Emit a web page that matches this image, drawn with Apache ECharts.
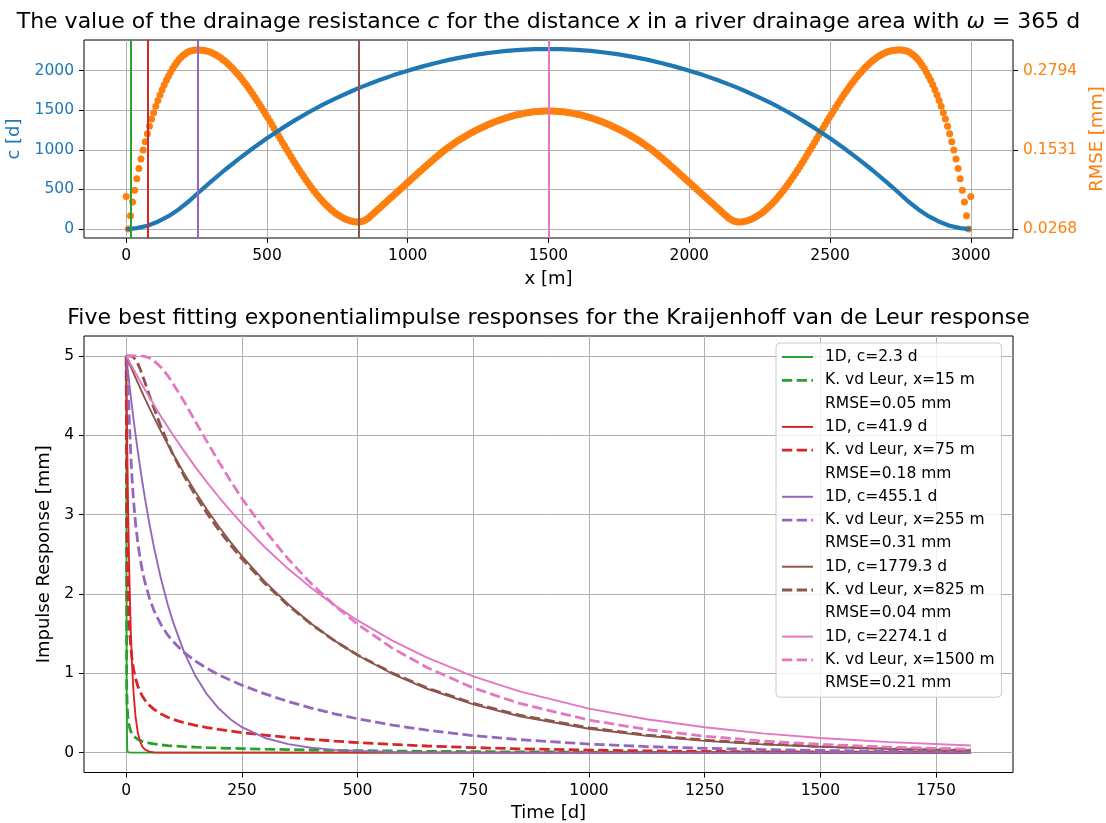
<!DOCTYPE html>
<html>
<head>
<meta charset="utf-8">
<title>Drainage resistance and impulse responses</title>
<script src="https://cdn.jsdelivr.net/npm/echarts@6/dist/echarts.min.js"></script>
<style>
  html, body { margin: 0; padding: 0; background: #ffffff; }
  #chart { width: 1106px; height: 823px; }
</style>
</head>
<body>
<div id="chart"></div>
<script>
// ---------------- top panel: c(x) and RMSE(x) ----------------
// RMSE of the best exponential fit, sampled every 7.5 m from x = 0 to 3000 m
const distStep = 7.5;
const rmseMm = [
  0.0786, 0.0268, 0.0480, 0.0697, 0.0888, 0.1068, 0.1232, 0.1384, 0.1527, 0.1662, 0.1789, 0.1906, 0.2023, 0.2124, 0.2227, 0.2317, 0.2405, 0.2491, 0.2570, 0.2642,
  0.2707, 0.2770, 0.2830, 0.2882, 0.2930, 0.2972, 0.3008, 0.3040, 0.3066, 0.3087, 0.3103, 0.3114, 0.3121, 0.3125, 0.3126, 0.3124, 0.3122, 0.3116, 0.3109, 0.3099,
  0.3087, 0.3072, 0.3055, 0.3036, 0.3015, 0.2992, 0.2966, 0.2939, 0.2909, 0.2877, 0.2844, 0.2809, 0.2771, 0.2732, 0.2692, 0.2649, 0.2606, 0.2560, 0.2513, 0.2465,
  0.2417, 0.2367, 0.2315, 0.2263, 0.2210, 0.2156, 0.2101, 0.2046, 0.1990, 0.1934, 0.1877, 0.1821, 0.1764, 0.1707, 0.1650, 0.1594, 0.1537, 0.1482, 0.1426, 0.1371,
  0.1317, 0.1263, 0.1211, 0.1159, 0.1108, 0.1059, 0.1010, 0.0963, 0.0918, 0.0873, 0.0831, 0.0789, 0.0750, 0.0712, 0.0676, 0.0642, 0.0610, 0.0579, 0.0551, 0.0525,
  0.0501, 0.0479, 0.0459, 0.0440, 0.0424, 0.0411, 0.0400, 0.0392, 0.0385, 0.0381, 0.0380, 0.0383, 0.0391, 0.0406, 0.0426, 0.0452, 0.0482, 0.0513, 0.0543, 0.0574,
  0.0604, 0.0635, 0.0665, 0.0696, 0.0726, 0.0757, 0.0787, 0.0818, 0.0848, 0.0879, 0.0909, 0.0940, 0.0970, 0.1001, 0.1031, 0.1062, 0.1092, 0.1123, 0.1153, 0.1184,
  0.1214, 0.1244, 0.1274, 0.1304, 0.1334, 0.1363, 0.1392, 0.1421, 0.1449, 0.1477, 0.1504, 0.1531, 0.1557, 0.1582, 0.1606, 0.1630, 0.1653, 0.1675, 0.1696, 0.1717,
  0.1737, 0.1756, 0.1775, 0.1794, 0.1812, 0.1830, 0.1847, 0.1864, 0.1881, 0.1897, 0.1913, 0.1928, 0.1943, 0.1957, 0.1971, 0.1984, 0.1997, 0.2009, 0.2021, 0.2033,
  0.2043, 0.2053, 0.2063, 0.2073, 0.2082, 0.2090, 0.2097, 0.2105, 0.2111, 0.2117, 0.2123, 0.2128, 0.2133, 0.2137, 0.2140, 0.2143, 0.2146, 0.2148, 0.2149, 0.2150,
  0.2150,
  0.2150, 0.2149, 0.2148, 0.2146, 0.2143, 0.2140, 0.2137, 0.2133, 0.2128, 0.2123, 0.2117, 0.2111, 0.2105, 0.2097, 0.2090, 0.2082, 0.2073, 0.2063, 0.2053, 0.2043,
  0.2033, 0.2021, 0.2009, 0.1997, 0.1984, 0.1971, 0.1957, 0.1943, 0.1928, 0.1913, 0.1897, 0.1881, 0.1864, 0.1847, 0.1830, 0.1812, 0.1794, 0.1775, 0.1756, 0.1737,
  0.1717, 0.1696, 0.1675, 0.1653, 0.1630, 0.1606, 0.1582, 0.1557, 0.1531, 0.1504, 0.1477, 0.1449, 0.1421, 0.1392, 0.1363, 0.1334, 0.1304, 0.1274, 0.1244, 0.1214,
  0.1184, 0.1153, 0.1123, 0.1092, 0.1062, 0.1031, 0.1001, 0.0970, 0.0940, 0.0909, 0.0879, 0.0848, 0.0818, 0.0787, 0.0757, 0.0726, 0.0696, 0.0665, 0.0635, 0.0604,
  0.0574, 0.0543, 0.0513, 0.0482, 0.0452, 0.0426, 0.0406, 0.0391, 0.0383, 0.0380, 0.0381, 0.0385, 0.0392, 0.0400, 0.0411, 0.0424, 0.0440, 0.0459, 0.0479, 0.0501,
  0.0525, 0.0551, 0.0579, 0.0610, 0.0642, 0.0676, 0.0712, 0.0750, 0.0789, 0.0831, 0.0873, 0.0918, 0.0963, 0.1010, 0.1059, 0.1108, 0.1159, 0.1211, 0.1263, 0.1317,
  0.1371, 0.1426, 0.1482, 0.1537, 0.1594, 0.1650, 0.1707, 0.1764, 0.1821, 0.1877, 0.1934, 0.1990, 0.2046, 0.2101, 0.2156, 0.2210, 0.2263, 0.2315, 0.2367, 0.2417,
  0.2465, 0.2513, 0.2560, 0.2606, 0.2649, 0.2692, 0.2732, 0.2771, 0.2809, 0.2844, 0.2877, 0.2909, 0.2939, 0.2966, 0.2992, 0.3015, 0.3036, 0.3055, 0.3072, 0.3087,
  0.3099, 0.3109, 0.3116, 0.3122, 0.3124, 0.3126, 0.3125, 0.3121, 0.3114, 0.3103, 0.3087, 0.3066, 0.3040, 0.3008, 0.2972, 0.2930, 0.2882, 0.2830, 0.2770, 0.2707,
  0.2642, 0.2570, 0.2491, 0.2405, 0.2317, 0.2227, 0.2124, 0.2023, 0.1906, 0.1789, 0.1662, 0.1527, 0.1384, 0.1232, 0.1068, 0.0888, 0.0697, 0.0480, 0.0268, 0.0786
];

// drainage resistance c [d] against distance x [m]
const cDist = [0, 15, 37.5, 75, 112.5, 150, 187.5, 225, 255, 300, 350, 400, 450, 500, 550, 600, 650, 700, 750, 800, 825, 850, 900, 950,
  1000, 1050, 1100, 1150, 1200, 1250, 1300, 1350, 1400, 1450, 1500, 1550, 1600, 1650, 1700, 1750, 1800, 1850, 1900, 1950, 2000,
  2050, 2100, 2150, 2175, 2200, 2250, 2300, 2350, 2400, 2450, 2500, 2550, 2600, 2650, 2700, 2745, 2775, 2812.5, 2850, 2887.5,
  2925, 2962.5, 2985, 3000];
const cDays = [0, 2.3, 10.8, 41.9, 92.4, 161.9, 250.1, 356.9, 455.1, 596.0, 745.2, 886.6, 1020.4, 1146.4, 1264.7, 1375.3, 1478.2, 1573.3, 1660.8, 1740.5, 1779.3, 1814.7, 1881.8, 1944.1,
  2000.5, 2051.4, 2098.1, 2139.4, 2175.1, 2205.4, 2230.1, 2249.4, 2263.1, 2271.4, 2274.1, 2271.4, 2263.1, 2249.4, 2230.1, 2205.4, 2175.1, 2139.4, 2098.1, 2051.4, 2000.5,
  1944.1, 1881.8, 1814.7, 1779.3, 1740.5, 1660.8, 1573.3, 1478.2, 1375.3, 1264.7, 1146.4, 1020.4, 886.6, 745.2, 596.0, 455.1, 356.9, 250.1, 161.9, 92.4,
  41.9, 10.8, 2.3, 0];

// the five distances with the best fits, and their fitted values
const fitDist = [15, 75, 255, 825, 1500];
const fitC = [2.3, 41.9, 455.1, 1779.3, 2274.1];
const fitRmse = [0.05, 0.18, 0.31, 0.04, 0.21];
const fitColors = ['#2ca02c', '#d62728', '#9467bd', '#8c564b', '#e377c2'];

const xTicksTop = [0, 500, 1000, 1500, 2000, 2500, 3000];
const cTicks = [0, 500, 1000, 1500, 2000];
const rmseTicks = [0.0268, 0.1531, 0.2794];

// ---------------- bottom panel: impulse responses [mm] ----------------
const timeDays = [0, 1, 2, 3, 4, 5, 7, 10, 13, 16, 20, 25, 30, 35, 40, 50, 60, 75, 90, 100, 125, 150, 175, 200, 225, 250,
  300, 350, 400, 450, 500, 575, 650, 750, 850, 1000, 1125, 1250, 1375, 1500, 1650, 1825];

const exp1D_15 = [5, 0.569, 0.065, 0.007, 0.001, 0, 0, 0, 0, 0, 0, 0, 0, 0, 0, 0, 0, 0, 0, 0,
  0, 0, 0, 0, 0, 0, 0, 0, 0, 0, 0, 0, 0, 0, 0, 0, 0, 0, 0, 0, 0, 0];
const kvdl_15 = [5, 0.840, 0.596, 0.487, 0.4225, 0.378, 0.320, 0.267, 0.2346, 0.2115, 0.1892, 0.1693, 0.1545, 0.1431, 0.1338, 0.1197, 0.1093, 0.0977, 0.0892, 0.0846,
  0.0756, 0.0688, 0.0632, 0.0585, 0.0544, 0.0506, 0.0440, 0.0383, 0.0334, 0.0291, 0.0254, 0.0207, 0.0168, 0.0128, 0.0097, 0.0065, 0.0046, 0.0033, 0.0023, 0.0016, 0.0011, 0.0007];

const exp1D_75 = [5, 4.438, 3.939, 3.495, 3.102, 2.753, 2.169, 1.516, 1.060, 0.741, 0.460, 0.253, 0.139, 0.0768, 0.0423, 0.0128, 0.0039, 0.0006, 0.0001, 0,
  0, 0, 0, 0, 0, 0, 0, 0, 0, 0, 0, 0, 0, 0, 0, 0, 0, 0, 0, 0, 0, 0];
const kvdl_75 = [5, 3.556, 2.732, 2.297, 2.021, 1.823, 1.558, 1.314, 1.157, 1.046, 0.937, 0.840, 0.768, 0.711, 0.666, 0.596, 0.545, 0.487, 0.445, 0.4224,
  0.3774, 0.3432, 0.3158, 0.2923, 0.2716, 0.2529, 0.2199, 0.1916, 0.1670, 0.1456, 0.1269, 0.1034, 0.0842, 0.0640, 0.0487, 0.0323, 0.0229, 0.0163, 0.0115, 0.0082, 0.0054, 0.0034];

const exp1D_255 = [5, 4.945, 4.891, 4.838, 4.785, 4.733, 4.630, 4.480, 4.335, 4.194, 4.014, 3.799, 3.596, 3.404, 3.222, 2.887, 2.586, 2.193, 1.860, 1.667,
  1.266, 0.962, 0.731, 0.556, 0.422, 0.321, 0.185, 0.107, 0.0617, 0.0356, 0.0206, 0.0090, 0.0040, 0.0013, 0.0004, 0.0001, 0, 0, 0, 0, 0, 0];
const kvdl_255 = [5, 4.998, 4.946, 4.813, 4.642, 4.465, 4.135, 3.729, 3.413, 3.162, 2.899, 2.645, 2.448, 2.288, 2.157, 1.949, 1.791, 1.614, 1.480, 1.408,
  1.263, 1.152, 1.061, 0.982, 0.913, 0.850, 0.740, 0.644, 0.562, 0.490, 0.427, 0.348, 0.283, 0.215, 0.164, 0.1085, 0.0771, 0.0547, 0.0388, 0.0276, 0.0183, 0.0113];

const exp1D_825 = [5, 4.986, 4.972, 4.958, 4.944, 4.930, 4.903, 4.861, 4.821, 4.780, 4.727, 4.661, 4.596, 4.532, 4.468, 4.345, 4.224, 4.050, 3.883, 3.775,
  3.519, 3.280, 3.058, 2.850, 2.657, 2.477, 2.152, 1.870, 1.625, 1.412, 1.227, 0.994, 0.805, 0.608, 0.459, 0.301, 0.212, 0.149, 0.105, 0.0739, 0.0485, 0.0296];
const kvdl_825 = [5, 5, 5, 5, 5, 5, 5, 4.999, 4.994, 4.982, 4.955, 4.902, 4.834, 4.757, 4.674, 4.504, 4.339, 4.108, 3.899, 3.771,
  3.488, 3.237, 3.012, 2.806, 2.618, 2.442, 2.129, 1.856, 1.618, 1.411, 1.230, 1.002, 0.816, 0.620, 0.472, 0.3127, 0.222, 0.1576, 0.112, 0.0794, 0.0527, 0.0326];

const exp1D_1500 = [5, 4.989, 4.978, 4.967, 4.956, 4.945, 4.924, 4.891, 4.859, 4.827, 4.785, 4.733, 4.681, 4.630, 4.579, 4.480, 4.382, 4.240, 4.102, 4.013,
  3.799, 3.595, 3.403, 3.221, 3.049, 2.886, 2.585, 2.316, 2.075, 1.859, 1.666, 1.412, 1.198, 0.961, 0.772, 0.555, 0.4215, 0.320, 0.2432, 0.185, 0.133, 0.0904];
const kvdl_1500 = [5, 5, 5, 5, 5, 5, 5, 5, 5, 5, 5, 5, 5, 4.997, 4.992, 4.974, 4.938, 4.857, 4.748, 4.661,
  4.426, 4.167, 3.913, 3.665, 3.428, 3.205, 2.797, 2.440, 2.128, 1.855, 1.618, 1.317, 1.073, 0.8155, 0.620, 0.411, 0.292, 0.2073, 0.147, 0.1045, 0.0693, 0.0429];

const timeTicks = [0, 250, 500, 750, 1000, 1250, 1500, 1750];
const respTicks = [0, 1, 2, 3, 4, 5];

// ---------------- styling ----------------
const FONT = 'DejaVu Sans';
const TICK_FS = 15.5;
const GRID_LINE = { show: true, lineStyle: { color: '#b0b0b0', width: 1 } };
const TICK = (vals) => ({ show: true, length: 5, customValues: vals, lineStyle: { color: '#000', width: 1 } });
const plain = (v) => String(v);

const pairs = (xs, ys) => xs.map((x, i) => [x, ys[i]]);

const oneD = [exp1D_15, exp1D_75, exp1D_255, exp1D_825, exp1D_1500];
const kvdl = [kvdl_15, kvdl_75, kvdl_255, kvdl_825, kvdl_1500];

const SOLID_ICON = 'path://M0,0H31V2H0Z';
const DASH_ICON = 'path://M0,0H10.3V2.8H0Z M14.7,0H25V2.8H14.7Z M29.4,0H31V2.8H29.4Z';

const respSeries = [];
const legendItems = [];
fitDist.forEach((x, g) => {
  const col = fitColors[g];
  const n1 = '1D, c=' + fitC[g] + ' d';
  const n2 = 'K. vd Leur, x=' + x + ' m';
  const n3 = 'RMSE=' + fitRmse[g].toFixed(2) + ' mm';
  respSeries.push({
    name: n1, type: 'line', xAxisIndex: 1, yAxisIndex: 2, symbol: 'none', showSymbol: false,
    data: pairs(timeDays, oneD[g]), itemStyle: { color: col },
    lineStyle: { color: col, width: 1.9 }
  });
  respSeries.push({
    name: n2, type: 'line', xAxisIndex: 1, yAxisIndex: 2, symbol: 'none', showSymbol: false,
    data: pairs(timeDays, kvdl[g]), itemStyle: { color: col },
    lineStyle: { color: col, width: 2.8, type: [10.3, 4.4], cap: 'butt' }
  });
  respSeries.push({ name: n3, type: 'line', xAxisIndex: 1, yAxisIndex: 2, data: [], symbol: 'none' });
  legendItems.push({ name: n1, icon: SOLID_ICON, itemStyle: { color: col, borderWidth: 0 } });
  legendItems.push({ name: n2, icon: DASH_ICON, itemStyle: { color: col, borderWidth: 0 } });
  legendItems.push({ name: n3, icon: 'none' });
});

const option = {
  animation: false,
  backgroundColor: '#ffffff',
  textStyle: { fontFamily: FONT },
  title: [
    {
      text: 'The value of the drainage resistance {i|c} for the distance {i|x} in a river drainage area with {i|ω} = 365 d',
      left: 548.5, top: 11, textAlign: 'center', padding: 0,
      textStyle: {
        fontFamily: FONT, fontSize: 22, fontWeight: 'normal', color: '#000',
        rich: { i: { fontFamily: FONT, fontSize: 22, fontStyle: 'italic', color: '#000' } }
      }
    },
    {
      text: 'Five best fitting exponentialimpulse responses for the Kraijenhoff van de Leur response',
      left: 548.5, top: 307, textAlign: 'center', padding: 0,
      textStyle: { fontFamily: FONT, fontSize: 22, fontWeight: 'normal', color: '#000' }
    }
  ],
  grid: [
    { left: 84, top: 40, width: 929, height: 198, show: true, borderColor: '#000', borderWidth: 1,
      backgroundColor: 'transparent', containLabel: false, outerBoundsMode: 'none' },
    { left: 84, top: 336, width: 929, height: 436.5, show: true, borderColor: '#000', borderWidth: 1,
      backgroundColor: 'transparent', containLabel: false, outerBoundsMode: 'none' }
  ],
  xAxis: [
    {
      type: 'value', gridIndex: 0, min: -150, max: 3150,
      axisLine: { show: false, onZero: false },
      axisTick: TICK(xTicksTop),
      axisLabel: { customValues: xTicksTop, formatter: plain, color: '#000', fontSize: TICK_FS, margin: 10 },
      splitLine: GRID_LINE,
      name: 'x [m]', nameLocation: 'middle', nameGap: 32,
      nameTextStyle: { fontSize: 18, color: '#000', fontFamily: FONT }
    },
    {
      type: 'value', gridIndex: 1, min: -91.25, max: 1916.25,
      axisLine: { show: false, onZero: false },
      axisTick: TICK(timeTicks),
      axisLabel: { customValues: timeTicks, formatter: plain, color: '#000', fontSize: TICK_FS, margin: 10 },
      splitLine: GRID_LINE,
      name: 'Time [d]', nameLocation: 'middle', nameGap: 32,
      nameTextStyle: { fontSize: 18, color: '#000', fontFamily: FONT }
    }
  ],
  yAxis: [
    {
      type: 'value', gridIndex: 0, position: 'left', min: -113.7, max: 2387.8,
      axisLine: { show: false, onZero: false },
      axisTick: TICK(cTicks),
      axisLabel: { customValues: cTicks, formatter: plain, color: '#1f77b4', fontSize: TICK_FS, margin: 10 },
      splitLine: GRID_LINE,
      name: 'c [d]', nameLocation: 'middle', nameRotate: 90, nameGap: 53,
      nameTextStyle: { fontSize: 18, color: '#1f77b4', fontFamily: FONT }
    },
    {
      type: 'value', gridIndex: 0, position: 'right', min: 0.012439, max: 0.32838,
      axisLine: { show: false, onZero: false },
      axisTick: TICK(rmseTicks),
      axisLabel: { customValues: rmseTicks, formatter: (v) => v.toFixed(4), color: '#ff7f0e', fontSize: TICK_FS, margin: 10 },
      splitLine: { show: false },
      name: 'RMSE [mm]', nameLocation: 'middle', nameRotate: 90, nameGap: 71,
      nameTextStyle: { fontSize: 18, color: '#ff7f0e', fontFamily: FONT }
    },
    {
      type: 'value', gridIndex: 1, position: 'left', min: -0.25, max: 5.25,
      axisLine: { show: false, onZero: false },
      axisTick: TICK(respTicks),
      axisLabel: { customValues: respTicks, formatter: plain, color: '#000', fontSize: TICK_FS, margin: 10 },
      splitLine: GRID_LINE,
      name: 'Impulse Response [mm]', nameLocation: 'middle', nameRotate: 90, nameGap: 26,
      nameTextStyle: { fontSize: 18, color: '#000', fontFamily: FONT }
    }
  ],
  legend: {
    orient: 'vertical', left: 776, top: 343,
    padding: [6, 7, 6, 6],
    itemWidth: 31, itemHeight: 15, itemGap: 7.3,
    backgroundColor: 'rgba(255,255,255,0.8)', borderColor: '#cccccc', borderWidth: 1, borderRadius: 4,
    selectedMode: false,
    textStyle: { fontFamily: FONT, fontSize: 15.5, color: '#000', padding: [0, 0, 0, 7] },
    data: legendItems
  },
  series: [
    {
      name: 'c', type: 'line', xAxisIndex: 0, yAxisIndex: 0, symbol: 'none', showSymbol: false,
      data: pairs(cDist, cDays),
      lineStyle: { color: '#1f77b4', width: 4.2 }, itemStyle: { color: '#1f77b4' },
      markLine: {
        silent: true, symbol: ['none', 'none'], animation: false,
        label: { show: false },
        data: fitDist.map((x, i) => ({ xAxis: x, lineStyle: { color: fitColors[i], width: 2, type: 'solid' } }))
      }
    },
    {
      name: 'RMSE', type: 'scatter', xAxisIndex: 0, yAxisIndex: 1,
      data: rmseMm.map((v, i) => [i * distStep, v]),
      symbolSize: 7, itemStyle: { color: '#ff7f0e', opacity: 1 }
    }
  ].concat(respSeries)
};

const chart = echarts.init(document.getElementById('chart'), null, { renderer: 'canvas' });
chart.setOption(option);
</script>
</body>
</html>
